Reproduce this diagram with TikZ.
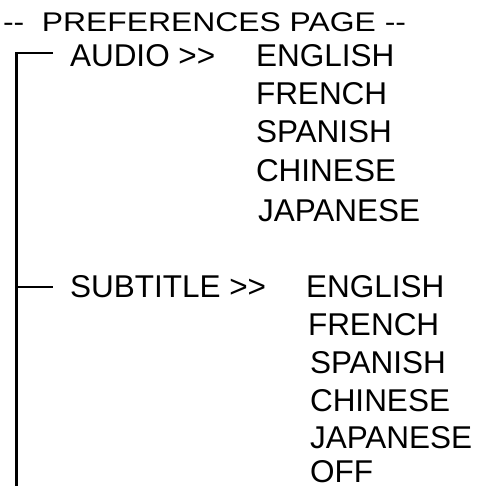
\documentclass[tikz,border=0pt]{standalone}
\usepackage{fontspec}
\setmainfont{Liberation Sans}
\begin{document}
\begin{tikzpicture}[x=1pt,y=-1pt,
  txt/.style={anchor=base west,inner sep=0pt,outer sep=0pt,font=\fontsize{31.5}{36}\selectfont},
  ttl/.style={anchor=base west,inner sep=0pt,outer sep=0pt,font=\fontsize{27}{32}\selectfont,xscale=1.18},
  tree/.style={line width=2.6pt,black}]
\useasboundingbox (0,0) rectangle (476,486);
\node[ttl] (title) at (3,32) {-{}-\ \ PREFERENCES PAGE -{}-};
% audio branch
\node[txt] (audio) at (70,67) {AUDIO >{}>};
\node[txt] (a1) at (256,67) {ENGLISH};
\node[txt] (a2) at (256,105) {FRENCH};
\node[txt] (a3) at (256,143) {SPANISH};
\node[txt] (a4) at (256,182) {CHINESE};
\node[txt] (a5) at (258,221) {JAPANESE};
% subtitle branch
\node[txt] (sub) at (70,297) {SUBTITLE >{}>};
\node[txt] (s1) at (306,297) {ENGLISH};
\node[txt] (s2) at (308,335) {FRENCH};
\node[txt] (s3) at (310,373) {SPANISH};
\node[txt] (s4) at (310,411) {CHINESE};
\node[txt] (s5) at (310,448) {JAPANESE};
\node[txt,text depth=0pt] (s6) at (310,482) {OFF};
% tree lines
\coordinate (top) at (16.5,53);
\coordinate (bot) at (16.5,487);
\coordinate (aend) at (53,53);
\coordinate (sj) at (16.5,287);
\coordinate (send) at (53,287);
\draw[tree] (aend) -- (top) -- (bot);
\draw[tree] (sj) -- (send);
\end{tikzpicture}
\end{document}
